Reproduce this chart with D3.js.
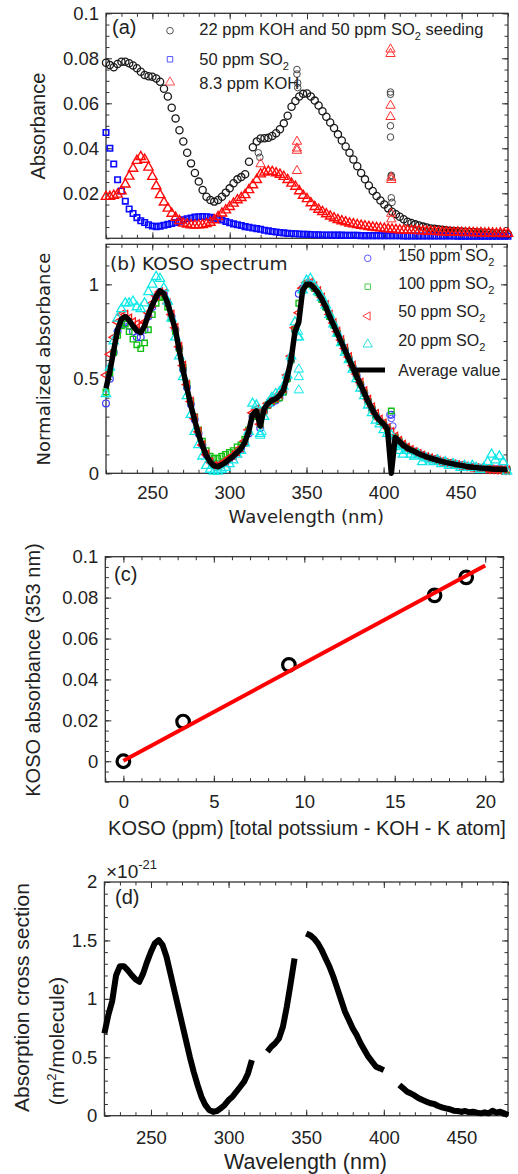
<!DOCTYPE html>
<html>
<head>
<meta charset="utf-8">
<script src="https://cdn.jsdelivr.net/npm/d3@7"></script>
<style>
  body { margin: 0; background: #fff; }
  svg { display: block; }
</style>
</head>
<body>
<svg id="fig" width="518" height="1174"></svg>
<script>
// shared wavelength grid (nm), 2.5 nm steps
const wavelengths = d3.range(220, 480.01, 2.5);

// (a) absorbance spectra
const absKohSo2 = [
  0.078, 0.077, 0.076, 0.0775, 0.0785, 0.0785, 0.0778, 0.0768, 0.0756, 0.074,
  0.0726, 0.072, 0.0718, 0.071, 0.0696, 0.0665, 0.063, 0.058, 0.0533, 0.048,
  0.043, 0.038, 0.0333, 0.029, 0.0252, 0.0215, 0.0185, 0.017, 0.0163, 0.017,
  0.0185, 0.0203, 0.0222, 0.0245, 0.0262, 0.0272, 0.0285, 0.034, 0.0405, 0.043,
  0.0444, 0.0445, 0.0447, 0.0455, 0.0467, 0.0485, 0.0511, 0.0545, 0.0585, 0.061,
  0.063, 0.0642, 0.0644, 0.063, 0.0612, 0.059, 0.0565, 0.054, 0.0515, 0.049,
  0.0462, 0.0435, 0.0408, 0.038, 0.035, 0.032, 0.029, 0.0262, 0.0235, 0.021,
  0.0188, 0.0168, 0.015, 0.0133, 0.0118, 0.0107, 0.0096, 0.0085, 0.0074, 0.0068,
  0.0062, 0.0057, 0.0052, 0.0048, 0.0044, 0.0042, 0.004, 0.0038, 0.0036, 0.0034,
  0.0033, 0.0031, 0.003, 0.0029, 0.0028, 0.0028, 0.0027, 0.0026, 0.0025, 0.0024,
  0.0022, 0.0021, 0.002, 0.0019, 0.0018
];
const absSo2 = [
  0.047, 0.04, 0.033, 0.026, 0.021, 0.0165, 0.013, 0.011, 0.0092, 0.0078,
  0.007, 0.006, 0.0055, 0.0052, 0.0054, 0.0058, 0.0062, 0.0066, 0.007, 0.0076,
  0.0082, 0.0087, 0.009, 0.0094, 0.0096, 0.0097, 0.0096, 0.0093, 0.0089, 0.0085,
  0.0081, 0.0075, 0.0069, 0.0064, 0.006, 0.0057, 0.0052, 0.0049, 0.0046, 0.0043,
  0.004, 0.0036, 0.0033, 0.003, 0.0028, 0.0026, 0.0024, 0.0022, 0.0021, 0.002,
  0.0019, 0.0018, 0.0018, 0.0017, 0.0016, 0.0016, 0.0015, 0.0015, 0.0015, 0.0014,
  0.0014, 0.0014, 0.0013, 0.0013, 0.0013, 0.0013, 0.0012, 0.0012, 0.0012, 0.0012,
  0.0012, 0.0011, 0.0011, 0.0011, 0.0011, 0.0011, 0.0011, 0.001, 0.001, 0.001,
  0.001, 0.001, 0.001, 0.001, 0.001, 0.001, 0.001, 0.001, 0.001, 0.001,
  0.001, 0.0009, 0.0009, 0.0009, 0.0009, 0.0009, 0.0009, 0.0009, 0.0009, 0.0009,
  0.0009, 0.0009, 0.0009, 0.0009, 0.0009
];
const absKoh = [
  0.0185, 0.0185, 0.019, 0.0195, 0.021, 0.024, 0.0275, 0.031, 0.0345, 0.0362,
  0.035, 0.0315, 0.0274, 0.0232, 0.0193, 0.016, 0.0133, 0.011, 0.0092, 0.0078,
  0.0067, 0.0062, 0.0059, 0.0058, 0.0059, 0.006, 0.0064, 0.007, 0.0081, 0.0095,
  0.0111, 0.0125, 0.014, 0.0155, 0.017, 0.018, 0.0193, 0.0215, 0.0237, 0.026,
  0.0285, 0.0293, 0.0298, 0.0296, 0.029, 0.0283, 0.0274, 0.026, 0.0244, 0.023,
  0.021, 0.019, 0.0175, 0.0157, 0.014, 0.0128, 0.0118, 0.0108, 0.0098, 0.009,
  0.0082, 0.0077, 0.0072, 0.0067, 0.0063, 0.006, 0.0057, 0.0054, 0.0051, 0.0049,
  0.0047, 0.0045, 0.0043, 0.0041, 0.004, 0.0038, 0.0037, 0.0036, 0.0035, 0.0034,
  0.0034, 0.0033, 0.0032, 0.0031, 0.003, 0.003, 0.0029, 0.0028, 0.0028, 0.0027,
  0.0026, 0.0027, 0.0025, 0.0024, 0.0026, 0.0024, 0.0023, 0.0024, 0.0022, 0.0023,
  0.0022, 0.0021, 0.0023, 0.002, 0.0021
];
// stray points in (a)
const strayKohSo2Wl = [318.5, 319.5, 343.5, 343.5, 344, 344, 404, 404, 404, 404, 404.5, 404.5, 404.5, 405];
const strayKohSo2 = [0.038, 0.036, 0.075, 0.073, 0.069, 0.067, 0.065, 0.064, 0.05, 0.045, 0.028, 0.0275, 0.018, 0.016];
const strayKohWl = [320, 343.5, 343.5, 343.5, 343.5, 404, 404, 404, 404, 404.5, 404.5, 404.5, 404.5];
const strayKoh = [0.033, 0.043, 0.04, 0.039, 0.03, 0.084, 0.082, 0.059, 0.054, 0.027, 0.026, 0.011, 0.0085];

// (b) normalized KOSO spectra
const norm150 = [
  0.37, 0.5, 0.64, 0.75, 0.79, 0.8, 0.78, 0.75, 0.72, 0.72,
  0.76, 0.83, 0.88, 0.93, 0.96, 0.95, 0.9, 0.83, 0.76, 0.66,
  0.55, 0.455, 0.365, 0.285, 0.21, 0.15, 0.1, 0.065, 0.045, 0.04,
  0.048, 0.06, 0.077, 0.092, 0.11, 0.13, 0.16, 0.21, 0.3, 0.32,
  0.24, 0.33, 0.36, 0.375, 0.385, 0.4, 0.43, 0.5, 0.6, 0.76,
  0.95, 0.98, 1.0, 1.0, 0.98, 0.955, 0.92, 0.88, 0.83, 0.785,
  0.74, 0.695, 0.65, 0.605, 0.56, 0.515, 0.47, 0.425, 0.38, 0.34,
  0.305, 0.275, 0.26, 0.24, 0.31, 0.19, 0.17, 0.15, 0.135, 0.122,
  0.115, 0.105, 0.096, 0.088, 0.081, 0.075, 0.069, 0.063, 0.058, 0.054,
  0.05, 0.046, 0.042, 0.038, 0.035, 0.032, 0.03, 0.028, 0.026, 0.025,
  0.023, 0.022, 0.021, 0.02, 0.02
];
const norm100 = [
  0.43, 0.53, 0.64, 0.73, 0.78, 0.79, 0.75, 0.71, 0.68, 0.66,
  0.69, 0.76, 0.84, 0.9, 0.93, 0.93, 0.88, 0.82, 0.75, 0.66,
  0.56, 0.47, 0.38, 0.3, 0.23, 0.17, 0.12, 0.09, 0.08, 0.08,
  0.09, 0.1, 0.11, 0.12, 0.14, 0.15, 0.18, 0.23, 0.3, 0.32,
  0.26, 0.33, 0.36, 0.38, 0.39, 0.4, 0.43, 0.5, 0.6, 0.76,
  0.9, 0.97, 1.0, 1.0, 0.98, 0.955, 0.92, 0.88, 0.83, 0.785,
  0.74, 0.695, 0.65, 0.605, 0.56, 0.515, 0.47, 0.425, 0.38, 0.34,
  0.305, 0.275, 0.26, 0.235, 0.33, 0.19, 0.17, 0.15, 0.135, 0.122,
  0.115, 0.104, 0.095, 0.087, 0.08, 0.074, 0.068, 0.062, 0.057, 0.053,
  0.049, 0.045, 0.041, 0.037, 0.034, 0.031, 0.029, 0.027, 0.025, 0.024,
  0.022, 0.021, 0.02, 0.019, 0.019
];
const norm50 = [
  0.52, 0.63, 0.72, 0.8, 0.84, 0.84, 0.82, 0.8, 0.79, 0.78,
  0.8, 0.85, 0.9, 0.94, 0.96, 0.95, 0.9, 0.84, 0.77, 0.67,
  0.57, 0.47, 0.38, 0.29, 0.22, 0.15, 0.1, 0.06, 0.04, 0.04,
  0.05, 0.065, 0.08, 0.095, 0.115, 0.135, 0.17, 0.23, 0.32, 0.34,
  0.26, 0.34, 0.37, 0.39, 0.4, 0.42, 0.45, 0.52, 0.62, 0.77,
  0.85, 0.98, 1.01, 1.01, 0.99, 0.965, 0.93, 0.89, 0.84, 0.795,
  0.75, 0.705, 0.66, 0.615, 0.57, 0.525, 0.48, 0.435, 0.39, 0.35,
  0.315, 0.285, 0.265, 0.24, 0.22, 0.195, 0.172, 0.152, 0.137, 0.124,
  0.113, 0.103, 0.094, 0.086, 0.079, 0.073, 0.067, 0.061, 0.056, 0.052,
  0.048, 0.044, 0.04, 0.036, 0.033, 0.03, 0.028, 0.026, 0.024, 0.022,
  0.02, 0.019, 0.018, 0.017, 0.016
];
const norm20 = [
  0.42, 0.56, 0.7, 0.82, 0.87, 0.9, 0.9, 0.91, 0.88, 0.87,
  0.9, 0.96, 1.0, 1.04, 1.03, 0.98, 0.91, 0.82, 0.72, 0.62,
  0.51, 0.41, 0.31, 0.22, 0.15, 0.09, 0.04, 0.02, 0.01, 0.01,
  0.02, 0.03, 0.05, 0.07, 0.1, 0.12, 0.16, 0.22, 0.37, 0.36,
  0.21, 0.3, 0.37, 0.4, 0.42, 0.43, 0.46, 0.52, 0.62, 0.8,
  0.72, 0.97, 1.02, 1.03, 0.99, 0.96, 0.93, 0.89, 0.84, 0.79,
  0.74, 0.69, 0.64, 0.6, 0.55, 0.5, 0.45, 0.41, 0.36, 0.32,
  0.28, 0.26, 0.23, 0.21, 0.2, 0.14, 0.12, 0.1, 0.12, 0.1,
  0.09, 0.1, 0.06, 0.08, 0.07, 0.06, 0.07, 0.05, 0.06, 0.04,
  0.05, 0.04, 0.03, 0.04, 0.03, 0.04, 0.03, 0.02, 0.03, 0.06,
  0.1, 0.07, 0.09, 0.06, 0.01
];
const normAverage = [
  0.45, 0.54, 0.65, 0.76, 0.815, 0.83, 0.81, 0.78, 0.755, 0.745,
  0.78, 0.84, 0.89, 0.935, 0.965, 0.95, 0.9, 0.83, 0.76, 0.65,
  0.545, 0.45, 0.36, 0.28, 0.205, 0.145, 0.095, 0.06, 0.04, 0.035,
  0.045, 0.058, 0.075, 0.09, 0.11, 0.13, 0.165, 0.22, 0.31, 0.33,
  0.25, 0.34, 0.37, 0.385, 0.395, 0.41, 0.44, 0.51, 0.6, 0.75,
  0.8, 0.97, 1.0, 1.0, 0.98, 0.955, 0.92, 0.88, 0.83, 0.785,
  0.74, 0.695, 0.65, 0.605, 0.56, 0.515, 0.47, 0.425, 0.38, 0.34,
  0.305, 0.28, 0.26, 0.235, 0.0, 0.19, 0.17, 0.15, 0.135, 0.124,
  0.115, 0.105, 0.096, 0.088, 0.081, 0.075, 0.069, 0.063, 0.058, 0.054,
  0.05, 0.046, 0.042, 0.038, 0.035, 0.032, 0.03, 0.028, 0.026, 0.025,
  0.023, 0.022, 0.021, 0.02, 0.02
];
const stray20Wl = [320, 321, 344.5, 344.5, 345, 345, 345];
const stray20 = [0.2, 0.22, 0.75, 0.72, 0.55, 0.51, 0.44];
const stray150Wl = [404, 405, 406];
const stray150 = [0.31, 0.29, 0.25];

// (c) KOSO absorbance at 353 nm vs KOSO concentration
const kosoPpm = [0, 3.3, 9.15, 17.2, 18.95];
const kosoAbs353 = [0, 0.0194, 0.0471, 0.0811, 0.0899];
const fitPpm = [0, 20];
const fitAbs = [0.0002, 0.0957];

// (d) absorption cross section, 1e-21 m^2/molecule (null = gap)
const crossSection = [
  0.705, 0.86, 0.98, 1.2, 1.28, 1.28, 1.246, 1.204, 1.167, 1.146,
  1.218, 1.317, 1.403, 1.475, 1.503, 1.46, 1.36, 1.218, 1.075, 0.932,
  0.79, 0.648, 0.505, 0.376, 0.263, 0.163, 0.092, 0.049, 0.034, 0.04,
  0.063, 0.092, 0.134, 0.163, 0.205, 0.248, 0.291, 0.362, 0.476, null,
  null, null, 0.548, 0.59, 0.62, 0.662, 0.761, 0.932, 1.133, 1.346,
  null, null, 1.56, 1.545, 1.517, 1.475, 1.417, 1.346, 1.275, 1.189,
  1.09, 0.99, 0.89, 0.818, 0.747, 0.69, 0.62, 0.562, 0.505, 0.462,
  0.419, 0.405, 0.39, null, null, null, 0.263, 0.234, 0.205, 0.19,
  0.171, 0.149, 0.134, 0.12, 0.106, 0.1, 0.083, 0.072, 0.063, 0.055,
  0.043, 0.04, 0.034, 0.04, 0.029, 0.034, 0.026, 0.02, 0.029, 0.02,
  0.043, 0.026, 0.034, 0.02, 0.006
];

const wlTicks = [250, 300, 350, 400, 450];

const svg = d3.select("#fig");
const SANS = "'Liberation Sans', Arial, sans-serif";
const VERD = "'DejaVu Sans', Verdana, sans-serif";

function makePanel(box, xDom, yDom) {
  const w = box.right - box.left, h = box.bottom - box.top;
  const g = svg.append("g").attr("transform", `translate(${box.left},${box.top})`);
  const x = d3.scaleLinear().domain(xDom).range([0, w]);
  const y = d3.scaleLinear().domain(yDom).range([h, 0]);
  return { g, x, y, w, h };
}

function drawAxes(p, o) {
  const { g, x, y, w, h } = p;
  const put = (axis, tx, ty) => {
    const a = g.append("g").attr("transform", `translate(${tx},${ty})`).call(axis);
    a.select(".domain").remove();
    a.selectAll("line").attr("stroke", "#333");
    a.selectAll("text").attr("font-family", SANS).attr("font-size", 18.5).attr("fill", "#222");
    return a;
  };
  put(d3.axisBottom(x).tickValues(o.xMajor).tickSize(-6).tickPadding(o.xPad || 13)
    .tickFormat(o.xLabels ? String : ""), 0, h);
  put(d3.axisBottom(x).tickValues(o.xMinor).tickSize(-3.5).tickFormat(""), 0, h);
  put(d3.axisTop(x).tickValues(o.xMajor).tickSize(-6).tickFormat(""), 0, 0);
  put(d3.axisTop(x).tickValues(o.xMinor).tickSize(-3.5).tickFormat(""), 0, 0);
  put(d3.axisLeft(y).tickValues(o.yMajor).tickSize(-6).tickPadding(7).tickFormat(String), 0, 0);
  put(d3.axisLeft(y).tickValues(o.yMinor).tickSize(-3.5).tickFormat(""), 0, 0);
  put(d3.axisRight(y).tickValues(o.yMajor).tickSize(-6).tickFormat(""), w, 0);
  put(d3.axisRight(y).tickValues(o.yMinor).tickSize(-3.5).tickFormat(""), w, 0);
  g.append("rect").attr("width", w).attr("height", h)
    .attr("fill", "none").attr("stroke", "#333").attr("stroke-width", 1.3);
}

const shapes = {
  square: d3.symbol(d3.symbolSquare, 30)(),
  tri: d3.symbol(d3.symbolTriangle, 38)(),
  ltri: d3.symbol(d3.symbolTriangle, 30)()
};

function markers(sel, pts, shape, color, r, sw) {
  if (shape === "circle") {
    sel.selectAll(null).data(pts).join("circle")
      .attr("cx", d => d[0]).attr("cy", d => d[1]).attr("r", r)
      .attr("fill", "none").attr("stroke", color).attr("stroke-width", sw || 1.2);
  } else {
    sel.selectAll(null).data(pts).join("path")
      .attr("d", shapes[shape])
      .attr("transform", d => `translate(${d[0]},${d[1]})` + (shape === "ltri" ? " rotate(-90)" : ""))
      .attr("fill", "none").attr("stroke", color).attr("stroke-width", sw || 1.2);
  }
}

function series(p, xs, ys, shape, color, r, sw) {
  const pts = xs.map((w, i) => [w, ys[i]]).filter(d => d[1] != null)
    .map(d => [p.x(d[0]), p.y(d[1])]);
  markers(p.g.append("g"), pts, shape, color, r, sw);
}

function text(x, y, str, size, family, anchor) {
  return svg.append("text").attr("x", x).attr("y", y).text(str)
    .attr("font-size", size).attr("font-family", family || SANS)
    .attr("text-anchor", anchor || "start").attr("fill", "#222");
}

function vtext(x, y, str, size, family) {
  return svg.append("text").attr("transform", `translate(${x},${y}) rotate(-90)`)
    .text(str).attr("font-size", size).attr("font-family", family || SANS)
    .attr("text-anchor", "middle").attr("fill", "#222");
}

function withSub(t, main, sub, rest, subSize) {
  t.text(main);
  t.append("tspan").attr("dy", 5).attr("font-size", subSize).text(sub);
  if (rest) t.append("tspan").attr("dy", -5).text(rest);
  return t;
}

// ---------- (a)
const pa = makePanel({ left: 106, right: 508, top: 13.3, bottom: 238.3 }, [220, 480], [0, 0.1]);
drawAxes(pa, {
  xMajor: wlTicks, xMinor: d3.range(220, 481, 10), xLabels: false,
  yMajor: [0.02, 0.04, 0.06, 0.08, 0.1], yMinor: d3.range(0, 0.1001, 0.005)
});
series(pa, wavelengths, absKohSo2, "circle", "#1a1a1a", 3.6, 1.3);
series(pa, strayKohSo2Wl, strayKohSo2, "circle", "#444", 3.3, 1);
series(pa, wavelengths, absSo2, "square", "#0a0aff", 0, 1.6);
series(pa, wavelengths, absKoh, "tri", "#ff0a0a", 0, 1.4);
series(pa, strayKohWl, strayKoh, "tri", "#ff3030", 0, 1);

text(112, 34, "(a)", 20);
markers(svg.append("g"), [[170, 30.7]], "circle", "#555", 3.3, 1);
markers(svg.append("g"), [[170, 59.3]], "square", "#5555ff", 0, 1);
markers(svg.append("g"), [[170, 82.3]], "tri", "#ff5555", 0, 1);
withSub(text(199.3, 35, "", 16.5), "22 ppm KOH and 50 ppm SO", "2", " seeding", 11);
withSub(text(199.3, 65, "", 16.5), "50 ppm SO", "2", null, 11);
text(199.3, 89, "8.3 ppm KOH", 16.5);
vtext(45, 126, "Absorbance", 20);

// ---------- (b)
const pb = makePanel({ left: 106, right: 507, top: 244.3, bottom: 473.3 }, [220, 480], [0, 1.212]);
drawAxes(pb, {
  xMajor: wlTicks, xMinor: d3.range(220, 481, 10), xLabels: true, xPad: 13,
  yMajor: [0, 0.5, 1], yMinor: d3.range(0, 1.21, 0.1)
});
series(pb, wavelengths, norm150, "circle", "#3a3aff", 3.4, 1.2);
series(pb, stray150Wl, stray150, "circle", "#5050ff", 3.3, 1);
series(pb, wavelengths, norm100, "square", "#10c010", 0, 1.4);
series(pb, wavelengths, norm50, "ltri", "#ff1a1a", 0, 1.3);
series(pb, wavelengths, norm20, "tri", "#10e8e8", 0, 1.3);
series(pb, stray20Wl, stray20, "tri", "#10e8e8", 0, 1);
pb.g.append("path")
  .datum(wavelengths.map((w, i) => [w, normAverage[i]]))
  .attr("d", d3.line().x(d => pb.x(d[0])).y(d => pb.y(d[1])))
  .attr("fill", "none").attr("stroke", "#000").attr("stroke-width", 5.5)
  .attr("stroke-linejoin", "round");

text(110, 270, "(b) KOSO spectrum", 18.5, VERD);
markers(svg.append("g"), [[367.7, 258.3]], "circle", "#5a5aff", 3.3, 1);
markers(svg.append("g"), [[367.7, 286.7]], "square", "#50d050", 0, 1);
markers(svg.append("g"), [[367.7, 316]], "ltri", "#ff4040", 0, 1);
markers(svg.append("g"), [[367.7, 344.3]], "tri", "#30e0e0", 0, 1);
svg.append("line").attr("x1", 351.7).attr("x2", 385).attr("y1", 370).attr("y2", 370)
  .attr("stroke", "#000").attr("stroke-width", 5);
withSub(text(398.3, 261, "", 16), "150 ppm SO", "2", null, 11);
withSub(text(398.3, 289, "", 16), "100 ppm SO", "2", null, 11);
withSub(text(398.3, 317.4, "", 16), "50 ppm SO", "2", null, 11);
withSub(text(398.3, 345.7, "", 16), "20 ppm SO", "2", null, 11);
text(398.3, 376.4, "Average value", 16);
vtext(50, 359, "Normalized absorbance", 18, VERD);
text(306.3, 523, "Wavelength (nm)", 18, VERD, "middle");

// ---------- (c)
const pc = makePanel({ left: 105.3, right: 503.3, top: 556.7, bottom: 781.7 }, [-1, 21], [-0.01, 0.1]);
drawAxes(pc, {
  xMajor: [0, 5, 10, 15, 20], xMinor: d3.range(-1, 21.01, 1), xLabels: true, xPad: 13,
  yMajor: [0, 0.02, 0.04, 0.06, 0.08, 0.1], yMinor: d3.range(-0.01, 0.1001, 0.005)
});
pc.g.selectAll(null).data(kosoPpm.map((v, i) => [v, kosoAbs353[i]])).join("circle")
  .attr("cx", d => pc.x(d[0])).attr("cy", d => pc.y(d[1])).attr("r", 6.3)
  .attr("fill", "none").attr("stroke", "#000").attr("stroke-width", 3.2);
pc.g.append("path")
  .datum(fitPpm.map((v, i) => [v, fitAbs[i]]))
  .attr("d", d3.line().x(d => pc.x(d[0])).y(d => pc.y(d[1])))
  .attr("stroke", "#ff0000").attr("stroke-width", 4).attr("fill", "none");
text(114, 581, "(c)", 20);
vtext(40, 670, "KOSO absorbance (353 nm)", 20);
text(307, 835, "KOSO (ppm) [total potssium - KOH - K atom]", 20, SANS, "middle");

// ---------- (d)
const pd = makePanel({ left: 104.4, right: 508, top: 882, bottom: 1115.7 }, [220, 480], [0, 2]);
drawAxes(pd, {
  xMajor: wlTicks, xMinor: d3.range(220, 481, 10), xLabels: true, xPad: 15,
  yMajor: [0, 0.5, 1, 1.5, 2], yMinor: d3.range(0, 2.01, 0.1)
});
pd.g.append("path")
  .datum(wavelengths.map((w, i) => [w, crossSection[i]]))
  .attr("d", d3.line().defined(d => d[1] != null).x(d => pd.x(d[0])).y(d => pd.y(d[1])))
  .attr("fill", "none").attr("stroke", "#000").attr("stroke-width", 6)
  .attr("stroke-linejoin", "round");
text(115, 904, "(d)", 20);
const expo = text(106, 878, "\u00d710", 19);
expo.append("tspan").attr("dy", -9).attr("font-size", 13).text("-21");
vtext(29, 997.5, "Absorption cross section", 21);
const unit = vtext(64, 1041, "", 21);
unit.text("(m");
unit.append("tspan").attr("dy", -8).attr("font-size", 13).text("2");
unit.append("tspan").attr("dy", 8).text("/molecule)");
text(305.5, 1169, "Wavelength (nm)", 21.5, SANS, "middle");
</script>
</body>
</html>
